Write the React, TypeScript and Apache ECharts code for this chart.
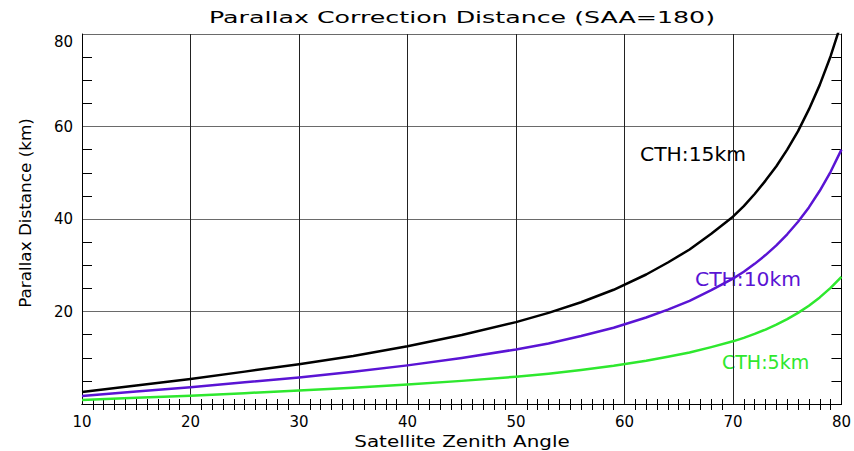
import React, { useEffect, useRef } from "react";
import * as echarts from "echarts";

const angles = [10, 15, 20, 25, 30, 35, 40, 45, 50, 53, 56, 59, 62, 64, 66, 68, 70, 71, 72, 73, 74, 75, 76, 77, 78, 79, 80];
const cth15 = [2.6, 4.0, 5.4, 7.0, 8.6, 10.4, 12.5, 14.9, 17.7, 19.7, 22.0, 24.7, 28.0, 30.6, 33.4, 36.8, 40.5, 42.8, 45.4, 48.3, 51.4, 55.0, 59.0, 63.7, 69.0, 75.2, 82.5];
const cth10 = [1.75, 2.7, 3.6, 4.7, 5.75, 6.95, 8.35, 9.95, 11.8, 13.1, 14.7, 16.5, 18.7, 20.4, 22.3, 24.6, 27.1, 28.6, 30.3, 32.2, 34.3, 36.7, 39.4, 42.5, 46.1, 50.2, 55.0];
const cth5 = [0.88, 1.35, 1.8, 2.35, 2.9, 3.5, 4.2, 5.0, 5.9, 6.55, 7.35, 8.25, 9.35, 10.2, 11.15, 12.3, 13.55, 14.3, 15.15, 16.1, 17.15, 18.35, 19.7, 21.25, 23.05, 25.1, 27.5];
const seriesNames = ["CTH:15km", "CTH:10km", "CTH:5km"];
const seriesColors = ["#000000", "#5a14d4", "#2ee82e"];
const xTicks = [10, 20, 30, 40, 50, 60, 70, 80];
const yTicks = [20, 40, 60, 80];
const titleText = "Parallax Correction Distance (SAA=180)";
const xTitle = "Satellite Zenith Angle";
const yTitle = "Parallax Distance (km)";

const FONT = "DejaVu Sans";

export default function App() {
  const ref = useRef<HTMLDivElement>(null);
  useEffect(() => {
    document.body.style.margin = "0";
    const chart = echarts.init(ref.current!, null, { renderer: "svg" });
    const datas = [cth15, cth10, cth5];
    const gridL = 82, gridR = 11, gridT = 34, gridB = 47;
    const xBase = {
      type: "value" as const,
      min: xTicks[0],
      max: xTicks[xTicks.length - 1],
      interval: 10,
      axisLine: { show: true, lineStyle: { color: "#000", width: 1 } },
      axisTick: { show: false, inside: true },
      minorTick: { show: true, splitNumber: 10, length: 5, lineStyle: { color: "#000", width: 1 } },
    };
    const yBase = {
      type: "value" as const,
      min: 0,
      max: yTicks[yTicks.length - 1],
      interval: 20,
      axisLine: { show: true, lineStyle: { color: "#000", width: 1 } },
      axisTick: { show: false, inside: true },
      minorTick: { show: true, splitNumber: 4, length: 10, lineStyle: { color: "#000", width: 1 } },
    };
    chart.setOption({
      animation: false,
      backgroundColor: "#ffffff",
      grid: { left: gridL, right: gridR, top: gridT, bottom: gridB },
      xAxis: [
        {
          ...xBase,
          position: "bottom",
          axisLabel: { show: true, inside: false, margin: 10, color: "#000", fontFamily: FONT, fontSize: 15, showMinLabel: true, showMaxLabel: true },
          splitLine: { show: true, lineStyle: { color: "#222", width: 1 } },
        },
        {
          ...xBase,
          position: "top",
          minorTick: { ...xBase.minorTick, length: 6 },
          axisLabel: { show: false },
          splitLine: { show: false },
        },
      ],
      yAxis: [
        {
          ...yBase,
          position: "left",
          axisLabel: {
            show: true,
            inside: false,
            margin: 9,
            color: "#000",
            fontFamily: FONT,
            fontSize: 15,
            verticalAlignMaxLabel: "top",
            formatter: (v: number) => (yTicks.includes(v) ? String(v) : ""),
          },
          splitLine: { show: true, lineStyle: { color: "#6a6a6a", width: 1 } },
        },
        {
          ...yBase,
          position: "right",
          axisLabel: { show: false },
          splitLine: { show: false },
        },
      ],
      series: datas.map((d, i) => ({
        name: seriesNames[i],
        type: "line",
        xAxisIndex: 0,
        yAxisIndex: 0,
        data: angles.map((a, j) => [a, d[j]]),
        smooth: false,
        showSymbol: false,
        clip: true,
        lineStyle: { color: seriesColors[i], width: 2.5, join: "round" },
        itemStyle: { color: seriesColors[i] },
      })),
      graphic: [
        {
          type: "text",
          x: 462,
          y: 17,
          scaleX: 1.58,
          style: { text: titleText, fill: "#000", font: `16px '${FONT}'`, textAlign: "center", textVerticalAlign: "middle" },
        },
        {
          type: "text",
          x: 462,
          y: 442,
          scaleX: 1.33,
          style: { text: xTitle, fill: "#000", font: `15px '${FONT}'`, textAlign: "center", textVerticalAlign: "middle" },
        },
        {
          type: "text",
          x: 26,
          y: 213,
          rotation: Math.PI / 2,
          scaleX: 1.12,
          style: { text: yTitle, fill: "#000", font: `15px '${FONT}'`, textAlign: "center", textVerticalAlign: "middle" },
        },
        {
          type: "text",
          x: 640,
          y: 155,
          scaleX: 1.07,
          style: { text: seriesNames[0], fill: seriesColors[0], font: `19px '${FONT}'`, textAlign: "left", textVerticalAlign: "middle" },
        },
        {
          type: "text",
          x: 695,
          y: 280,
          scaleX: 1.07,
          style: { text: seriesNames[1], fill: seriesColors[1], font: `19px '${FONT}'`, textAlign: "left", textVerticalAlign: "middle" },
        },
        {
          type: "text",
          x: 722,
          y: 362,
          scaleX: 1.0,
          style: { text: seriesNames[2], fill: seriesColors[2], font: `19px '${FONT}'`, textAlign: "left", textVerticalAlign: "middle" },
        },
      ],
    });
    return () => chart.dispose();
  }, []);
  return <div ref={ref} style={{ position: "fixed", left: 0, top: 0, width: 854, height: 451 }} />;
}
